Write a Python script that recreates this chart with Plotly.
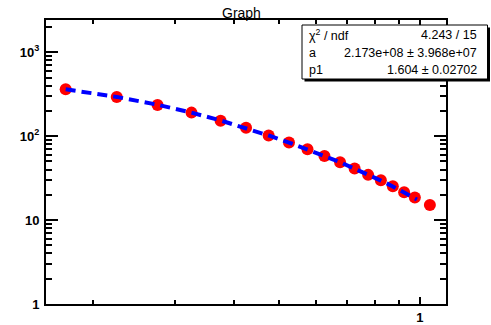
import plotly.graph_objects as go

# ---- data ----
x_data = [0.175, 0.225, 0.275, 0.325, 0.375, 0.425, 0.475, 0.525, 0.575,
          0.625, 0.675, 0.725, 0.775, 0.825, 0.875, 0.925, 0.975, 1.05]
y_data = [363, 294, 236, 191, 153, 126, 102, 84, 70,
          58, 49, 41.2, 34.6, 29.9, 25.4, 21.5, 18.6, 15.1]

x_fit = [0.175, 0.225, 0.275, 0.325, 0.375, 0.425, 0.475, 0.525, 0.575,
         0.625, 0.675, 0.725, 0.775, 0.825, 0.875, 0.925, 0.975, 0.985]
y_fit = [362, 294, 237, 191, 154, 125, 102, 84, 70,
         58, 49, 41.3, 34.8, 29.6, 25.2, 21.4, 18.2, 17.6]

y_major = [1, 10, 100, 1000]
y_major_text = ["1", "10", "10<sup>2</sup>", "10<sup>3</sup>"]
y_minor = [2, 3, 4, 5, 6, 7, 8, 9, 20, 30, 40, 50, 60, 70, 80, 90,
           200, 300, 400, 500, 600, 700, 800, 900, 2000]
x_major = [1]
x_major_text = ["1"]
x_minor = [0.2, 0.3, 0.4, 0.5, 0.6, 0.7, 0.8, 0.9]

stats_labels = ["\u03c7<sup>2</sup> / ndf", "a", "p1"]
stats_values = ["4.243 / 15", "2.173e+08 \u00b1 3.968e+07", "1.604 \u00b1 0.02702"]

W, H = 491, 325
ML, MR, MT, MB = 46, 45, 20, 21
PW, PH = W - ML - MR, H - MT - MB


def px(xp):
    return (xp - ML) / PW


def py(yp):
    return (H - MB - yp) / PH


FONT = "Liberation Sans, Arial, Helvetica, sans-serif"

fig = go.Figure()
fig.add_trace(go.Scatter(x=x_data, y=y_data, mode="markers",
                         marker=dict(color="#ff0000", size=12, line=dict(width=0)),
                         showlegend=False, hoverinfo="skip"))
fig.add_trace(go.Scatter(x=x_fit, y=y_fit, mode="lines",
                         line=dict(color="#0000ff", width=4, dash="10px,6px"),
                         showlegend=False, hoverinfo="skip"))

fig.update_layout(
    width=W, height=H,
    margin=dict(l=ML, r=MR, t=MT, b=MB, pad=0, autoexpand=False),
    paper_bgcolor="white", plot_bgcolor="white",
    font=dict(family=FONT, color="black"),
    xaxis=dict(type="log", range=[-0.799, 0.0556], automargin=False,
               showgrid=False, zeroline=False,
               showline=True, linewidth=2, linecolor="black", mirror="allticks",
               ticks="inside", ticklen=7, tickwidth=2, tickcolor="black",
               tickmode="array", tickvals=x_major, ticktext=x_major_text,
               tickfont=dict(size=13, weight="bold", family=FONT),
               ticklabelstandoff=0,
               minor=dict(ticks="inside", ticklen=4, tickwidth=2, tickcolor="black",
                          tickmode="array", tickvals=x_minor, showgrid=False)),
    yaxis=dict(type="log", range=[0.0, 3.385], automargin=False,
               showgrid=False, zeroline=False,
               showline=True, linewidth=2, linecolor="black", mirror="allticks",
               ticks="inside", ticklen=12, tickwidth=2, tickcolor="black",
               tickmode="array", tickvals=y_major, ticktext=y_major_text,
               tickfont=dict(size=13, weight="bold", family=FONT),
               ticklabelstandoff=2,
               minor=dict(ticks="inside", ticklen=6, tickwidth=2, tickcolor="black",
                          tickmode="array", tickvals=y_minor, showgrid=False)),
)

# title
fig.add_annotation(text="Graph", xref="paper", yref="paper",
                   x=px(241), y=py(13.5), xanchor="center", yanchor="middle",
                   showarrow=False, font=dict(size=14, family=FONT, color="black"))

# stats box with shadow
fig.add_shape(type="rect", xref="paper", yref="paper",
              x0=px(304.5), x1=px(490), y0=py(81.5), y1=py(27.5),
              fillcolor="black", line=dict(width=0), layer="above")
fig.add_shape(type="rect", xref="paper", yref="paper",
              x0=px(302), x1=px(487.5), y0=py(79), y1=py(25),
              fillcolor="white", line=dict(color="black", width=1), layer="above")

row_y = [35, 52.5, 70]
for lab, val, yy in zip(stats_labels, stats_values, row_y):
    fig.add_annotation(text=lab, xref="paper", yref="paper",
                       x=px(307), y=py(yy), xanchor="left", yanchor="middle",
                       showarrow=False, font=dict(size=12.5, family=FONT, color="black"))
    fig.add_annotation(text=val, xref="paper", yref="paper",
                       x=px(479), y=py(yy), xanchor="right", yanchor="middle",
                       showarrow=False, font=dict(size=12.5, family=FONT, color="black"))

fig.write_html("out.html")
